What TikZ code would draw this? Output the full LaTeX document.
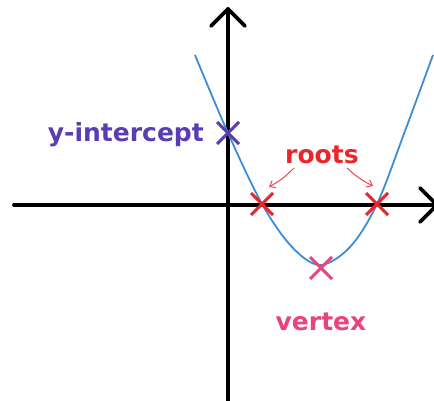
\documentclass[tikz,border=0pt]{standalone}
\usepackage{fontspec}
\setmainfont{DejaVu Sans}
\usetikzlibrary{arrows.meta,calc}
\definecolor{curveblue}{HTML}{3C8DD6}
\definecolor{rootred}{HTML}{E8262C}
\definecolor{intpurple}{HTML}{5A3DB5}
\definecolor{vertpink}{HTML}{E8457A}
\tikzset{
  axis/.style={line width=3.8pt, line cap=round},
  axhead/.style={line width=3.8pt, line cap=round, line join=round},
  crossmark/.style={line width=3pt},
  lbl/.style={font=\bfseries\fontsize{25}{28}\selectfont, inner sep=0pt},
  smallarr/.style={rootred!85, line width=1pt, -{Straight Barb[length=5pt,width=8pt]}}
}
\begin{document}
\begin{tikzpicture}[x=1pt,y=-1pt]
\useasboundingbox (0,0) rectangle (434,401);
% axes
\coordinate (xl) at (14,205);
\coordinate (xr) at (437,205);
\coordinate (yb) at (228,405);
\coordinate (yt) at (228,9);
\draw[axis] (xl) -- (xr);
\draw[axis] (yb) -- (yt);
\draw[axhead] (211,26) -- (yt) -- (245,26);
\draw[axhead] (420,188) -- (xr) -- (420,222);
% curve
\draw[curveblue, line width=1.8pt] plot[smooth, tension=0.55] coordinates
 {(195,55) (228,133) (262,204) (292,247) (320,265) (350,247) (377,204) (405,131) (433,55)};
% marks
\coordinate (yi) at (228,133);
\coordinate (r1) at (262,204);
\coordinate (r2) at (377,204);
\coordinate (vx) at (321,268);
\foreach \p/\c in {yi/intpurple, r1/rootred, r2/rootred, vx/vertpink}{
  \draw[crossmark, \c] ($(\p)+(-11,-11)$) -- ($(\p)+(11,11)$);
  \draw[crossmark, \c] ($(\p)+(-11,11)$) -- ($(\p)+(11,-11)$);
}
% labels
\node[lbl, intpurple, anchor=east] (ylab) at (204,135) {y-intercept};
\node[lbl, rootred] (rlab) at (322,155) {roots};
\node[lbl, vertpink] (vlab) at (321,322) {vertex};
\coordinate (a1s) at (294,168);
\coordinate (a1e) at (269,187);
\coordinate (a2s) at (347,168);
\coordinate (a2e) at (373,186);
\draw[smallarr] (a1s) to[bend left=8] (a1e);
\draw[smallarr] (a2s) to[bend right=8] (a2e);
\end{tikzpicture}
\end{document}
